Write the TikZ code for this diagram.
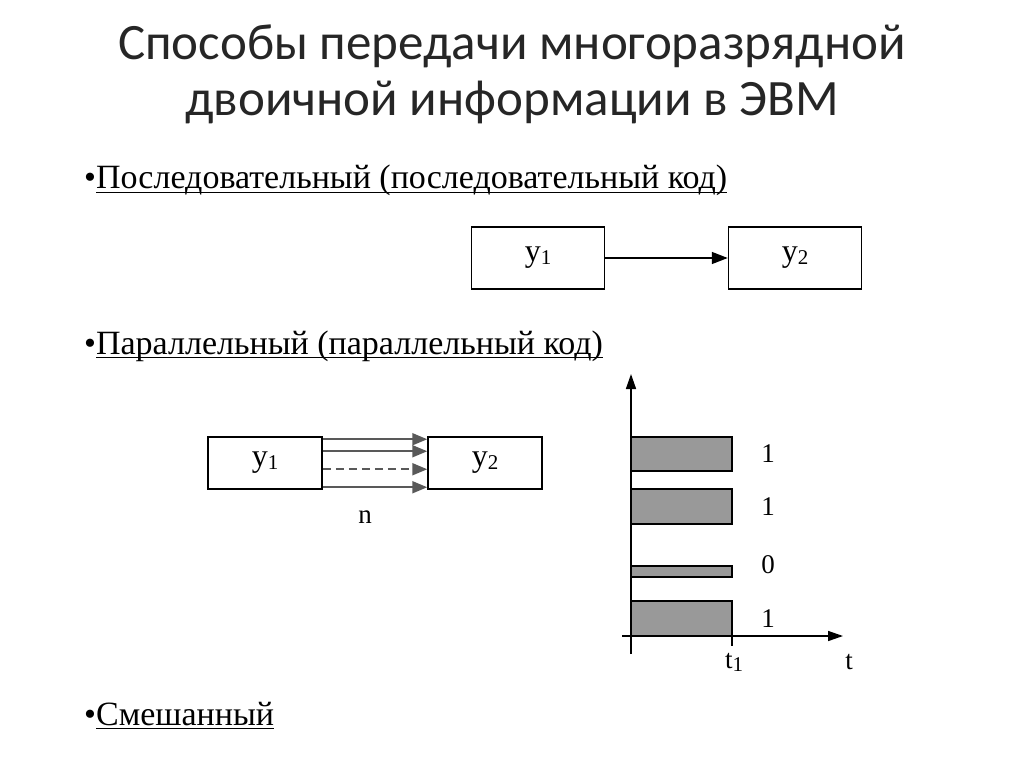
\documentclass[tikz,border=0pt]{standalone}
\usepackage{fontspec}
\setmainfont{Liberation Serif}
\newfontfamily\titlefont{Carlito}
\usetikzlibrary{arrows.meta, positioning, calc}

\newcommand\lowsub[2]{#1\raisebox{-3pt}{\fontsize{21}{21}\selectfont #2}}
\newcommand\uln[1]{\setbox0\hbox{#1}\rlap{\rule[-4pt]{\wd0}{1.3pt}}\box0}

\begin{document}
\begin{tikzpicture}[x=1pt, y=-1pt,
        title/.style={font=\titlefont\fontsize{51}{56}\selectfont, align=center, text=black!85},
        item/.style={anchor=base west, inner sep=0pt, font=\fontsize{34}{38}\selectfont},
        unit/.style={rectangle, draw, line width=1.5pt, minimum width=133pt, minimum height=62pt, inner sep=0pt, font=\fontsize{32}{32}\selectfont},
        arrow/.style={-{Triangle[length=16pt, width=12pt]}, line width=1.5pt},
        wire/.style={-{Triangle[length=15pt, width=12pt]}, line width=2pt, draw=black!65},
        bar/.style={draw, line width=1.5pt, fill=black!40},
        digit/.style={font=\fontsize{27}{27}\selectfont}
    ]
        \useasboundingbox (0,0) rectangle (1024,767);

        % Title
        \node[title] (head) at (512,74) {Способы передачи многоразрядной\\двоичной информации в ЭВМ};

        % Serial code
        \node[item] (serial) at (84,189) {•\uln{Последовательный (последовательный код)}};
        \node[unit] (sy1) at (538,258) {\lowsub{y}{1}};
        \node[unit] (sy2) at (795,258) {\lowsub{y}{2}};
        \draw[arrow] (sy1) -- (sy2);

        % Parallel code
        \node[item] (parallel) at (84,354) {•\uln{Параллельный (параллельный код)}};
        \node[unit, minimum width=114pt, minimum height=52pt] (py1) at (265,463) {\lowsub{y}{1}};
        \node[unit, minimum width=114pt, minimum height=52pt] (py2) at (485,463) {\lowsub{y}{2}};
        \draw[wire] ([yshift=-3pt]py1.north east) -- ([yshift=-3pt]py2.north west);
        \draw[wire] ([yshift=-15pt]py1.north east) -- ([yshift=-15pt]py2.north west);
        \draw[wire, dashed, dash pattern=on 8pt off 5pt] ([yshift=-33pt]py1.north east) -- ([yshift=-33pt]py2.north west);
        \draw[wire] ([yshift=-51pt]py1.north east) -- ([yshift=-51pt]py2.north west);
        \node[digit] (width) at (365,517) {n};

        % Timing chart
        \coordinate (orig) at (631,636);
        \coordinate (ytop) at (631,374);
        \coordinate (ybot) at (631,654);
        \coordinate (xleft) at (622,636);
        \coordinate (xright) at (843,636);
        \draw[arrow, -{Triangle[length=15pt, width=10pt]}] (ybot) -- (ytop);
        \draw[arrow, -{Triangle[length=15pt, width=10pt]}] (xleft) -- (xright);
        \draw[bar] (631,437) rectangle (732,471);
        \draw[bar] (631,489) rectangle (732,524);
        \draw[bar] (631,566) rectangle (732,577);
        \draw[bar] (631,601) rectangle (732,636);
        \draw[line width=1.5pt] (732,636) -- (732,646);
        \node[digit] (b1) at (768,454) {1};
        \node[digit] (b2) at (768,507) {1};
        \node[digit] (b3) at (768,565) {0};
        \node[digit] (b4) at (768,619) {1};
        \node[digit] (t1) at (734,662) {\lowsub{t}{1}};
        \node[digit] (tt) at (849,662) {t};

        % Mixed
        \node[item] (mixed) at (84,725) {•\uln{Смешанный}};

    \end{tikzpicture}
\end{document}
